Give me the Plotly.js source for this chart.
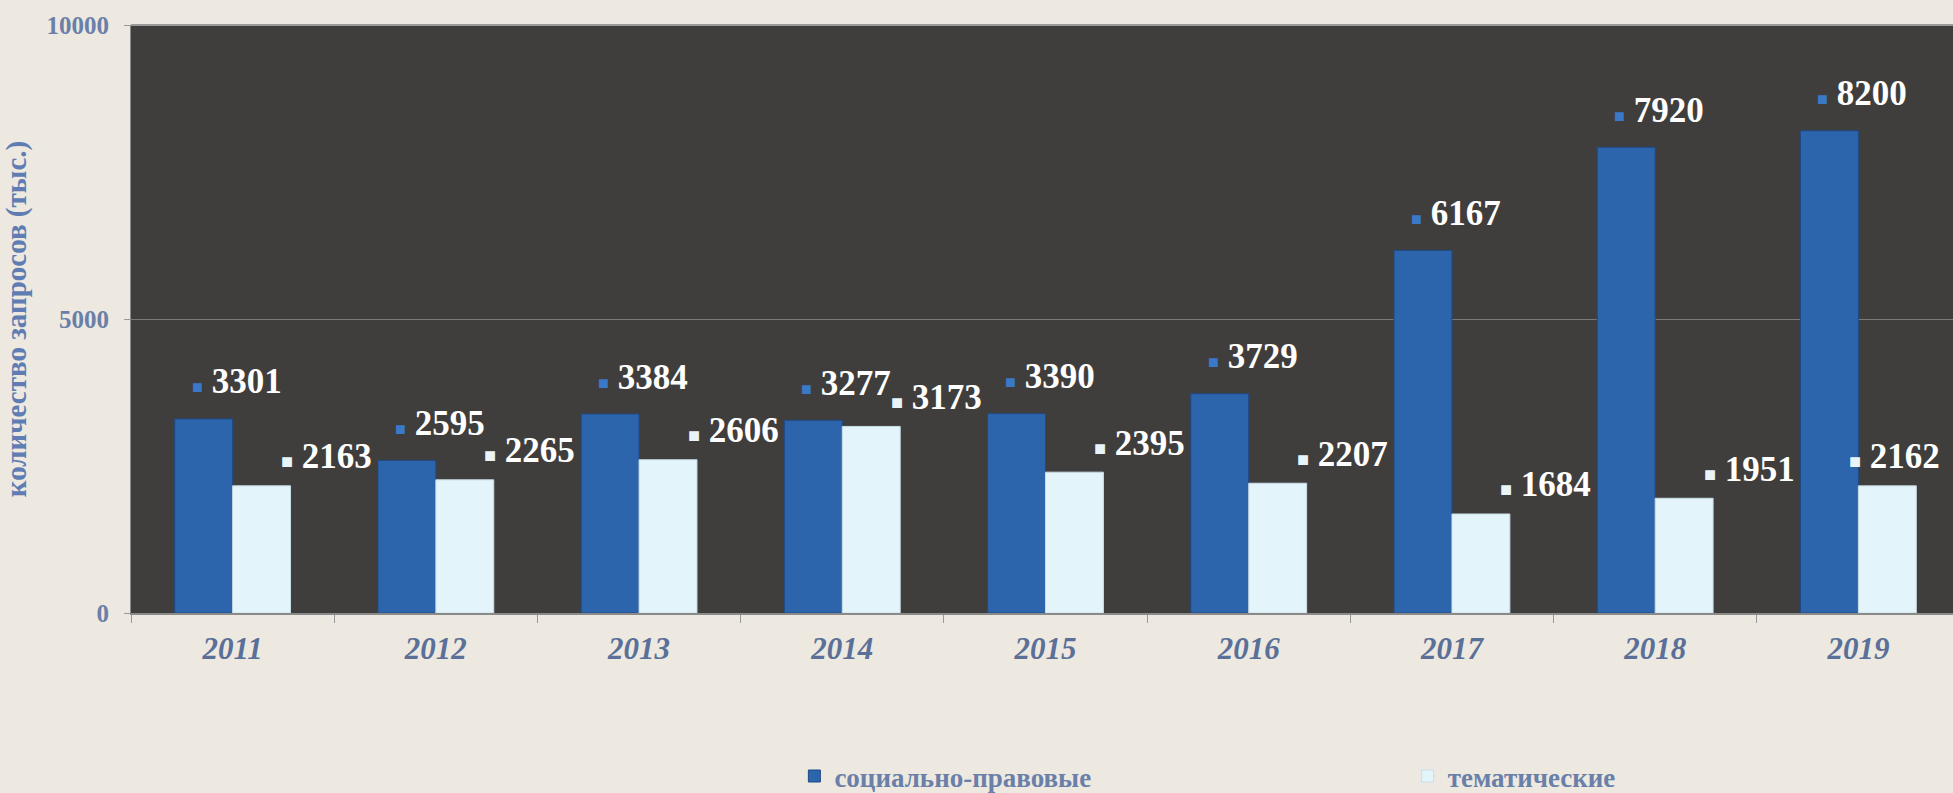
<!DOCTYPE html>
<html>
<head>
<meta charset="utf-8">
<script src="https://cdn.plot.ly/plotly-3.0.1.min.js"></script>
<style>
html,body{margin:0;padding:0;background:#ede9e0;overflow:hidden;}
#chart{width:1960px;height:793px;}
</style>
</head>
<body>
<div id="chart"></div>
<script>
const years = ['2011','2012','2013','2014','2015','2016','2017','2018','2019'];
const socialLegal = [3301, 2595, 3384, 3277, 3390, 3729, 6167, 7920, 8200];
const thematic = [2163, 2265, 2606, 3173, 2395, 2207, 1684, 1951, 2162];
const seriesNames = ['социально-правовые', 'тематические'];
const yTicks = [0, 5000, 10000];
const yTitle = 'количество запросов (тыс.)';

const blue = '#2d65ad';
const white = '#e3f5fb';
const axisColor = '#6a80a8';
const serif = 'Liberation Serif, Times New Roman, serif';

const traces = [
  {type:'bar', name:seriesNames[0], x:years, y:socialLegal, legend:'legend',
   marker:{color:blue, line:{color:'#1f4a85', width:1}}, hoverinfo:'skip'},
  {type:'bar', name:seriesNames[1], x:years, y:thematic, legend:'legend2',
   marker:{color:white, line:{color:'#c8dde6', width:1}}, hoverinfo:'skip'}
];

const labelFont = {family:serif, size:35, color:'#ffffff', weight:'bold'};
const annotations = [];
years.forEach((yr, i) => {
  const last = i === years.length - 1;
  annotations.push({
    x: i, y: socialLegal[i], xref:'x', yref:'y', showarrow:false,
    xshift: 4, yshift: 37, xanchor:'center', yanchor:'middle',
    text: '<span style="font-size:18px;fill:#3a78c8">■</span> ' + socialLegal[i],
    font: labelFont
  });
  annotations.push({
    x: i, y: thematic[i], xref:'x', yref:'y', showarrow:false,
    // the last label is pulled in so that it stays inside the figure
    xshift: last ? 36 : 94, yshift: 29, xanchor:'center', yanchor:'middle',
    text: '<span style="font-size:20px;fill:#e8f4f8">■</span> ' + thematic[i],
    font: labelFont
  });
});

const legendFont = {family:serif, size:27, color:axisColor, weight:'bold'};

const layout = {
  width:1960, height:793,
  paper_bgcolor:'#ede9e0', plot_bgcolor:'#403e3d',
  margin:{l:131, r:0, t:25, b:180, autoexpand:false},
  barmode:'group', bargap:0.43, bargroupgap:0,
  showlegend:true,
  legend:{orientation:'h', x:0.3627, xanchor:'left', y:-0.278, yanchor:'middle',
          bgcolor:'rgba(0,0,0,0)', font:legendFont},
  legend2:{orientation:'h', x:0.698, xanchor:'left', y:-0.278, yanchor:'middle',
          bgcolor:'rgba(0,0,0,0)', font:legendFont},
  xaxis:{type:'category', range:[-0.5, 8.5], showgrid:false, ticks:'outside', ticklen:8, tickcolor:'#999',
         tickson:'boundaries', showline:true, linecolor:'#8a8a8a', linewidth:2,
         tickangle:0,
         tickfont:{family:serif, size:31, color:'#5a7098', weight:'bold', style:'italic'},
         ticklabelstandoff:7},
  yaxis:{range:[0,10000], tickvals:yTicks, ticktext:yTicks.map(String),
         showgrid:true, gridcolor:'#7a7a7a', gridwidth:1, zeroline:false,
         ticks:'outside', ticklen:6, tickcolor:'#999', showline:true, linecolor:'#8a8a8a',
         tickfont:{family:serif, size:25, color:axisColor, weight:'bold'},
         ticklabelstandoff:10,
         title:{text:yTitle, standoff:16,
                font:{family:serif, size:29, color:'#5f7db3', weight:'bold'}}},
  shapes:[{type:'line', xref:'paper', yref:'paper', x0:0, x1:1, y0:1, y1:1,
           line:{color:'#9a9a9a', width:2}}],
  annotations: annotations
};

Plotly.newPlot('chart', traces, layout, {displayModeBar:false, staticPlot:true});
</script>
</body>
</html>
